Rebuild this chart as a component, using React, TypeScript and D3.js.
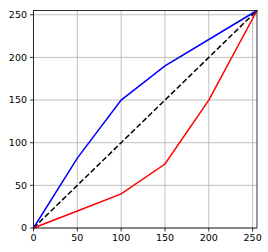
import React from "react";
import * as d3 from "d3";

const xs = [0, 50, 100, 150, 200, 255];
const blueVals = [0, 82, 150, 190, 221, 255];
const redVals = [0, 20, 40, 75, 150, 255];
const diagX = [0, 255];
const diagY = [0, 255];
const tickVals = [0, 50, 100, 150, 200, 250];

const W = 268, H = 252;
const L = 33.5, R = 257, T = 10.5, B = 228;

export default function App() {
  const x = d3.scaleLinear().domain([0, 255]).range([L, R]);
  const y = d3.scaleLinear().domain([0, 255]).range([B, T]);
  const line = d3.line<[number, number]>().x(d => x(d[0])).y(d => y(d[1]));
  const blue = xs.map((v, i) => [v, blueVals[i]] as [number, number]);
  const red = xs.map((v, i) => [v, redVals[i]] as [number, number]);
  const diag = diagX.map((v, i) => [v, diagY[i]] as [number, number]);
  const font = "DejaVu Sans, sans-serif";
  return (
    <svg width={W} height={H} style={{ position: "absolute", left: 0, top: 0, background: "#fff" }}>
      <rect x={0} y={0} width={W} height={H} fill="#fff" />
      {tickVals.map(t => (
        <g key={"g" + t}>
          <line x1={x(t)} x2={x(t)} y1={T} y2={B} stroke="#b0b0b0" strokeWidth={0.8} />
          <line x1={L} x2={R} y1={y(t)} y2={y(t)} stroke="#b0b0b0" strokeWidth={0.8} />
        </g>
      ))}
      <path d={line(diag)!} fill="none" stroke="#000" strokeWidth={1.5} strokeDasharray="5.5,2.5" />
      <path d={line(blue)!} fill="none" stroke="#0000ff" strokeWidth={1.5} />
      <path d={line(red)!} fill="none" stroke="#ff0000" strokeWidth={1.5} />
      <rect x={L} y={T} width={R - L} height={B - T} fill="none" stroke="#000" strokeWidth={0.8} />
      {tickVals.map(t => (
        <g key={"t" + t}>
          <line x1={x(t)} x2={x(t)} y1={B} y2={B + 3.5} stroke="#000" strokeWidth={0.8} />
          <text x={x(t)} y={B + 6} dy="0.76em" textAnchor="middle" fontFamily={font} fontSize={9.5} fill="#000">{t}</text>
          <line x1={L - 3.5} x2={L} y1={y(t)} y2={y(t)} stroke="#000" strokeWidth={0.8} />
          <text x={L - 6.5} y={y(t)} dy="0.36em" textAnchor="end" fontFamily={font} fontSize={9.5} fill="#000">{t}</text>
        </g>
      ))}
    </svg>
  );
}
